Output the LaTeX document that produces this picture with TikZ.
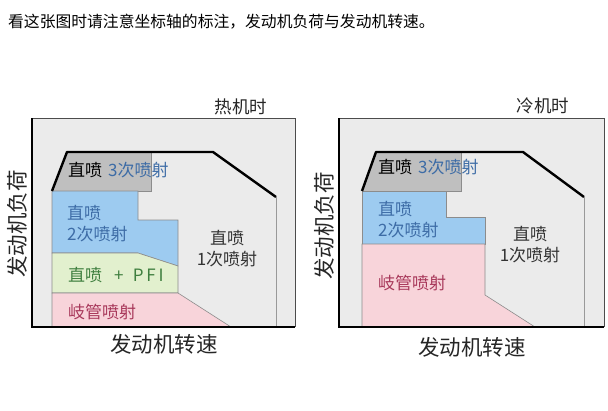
\documentclass[tikz,border=0pt]{standalone}
\usepackage{fontspec}
\setmainfont{Noto Sans CJK SC}
\usepackage{tikz}

\definecolor{panel}{HTML}{EBEBEB}
\definecolor{grayzone}{HTML}{BFBFBF}
\definecolor{bluezone}{HTML}{9DCBF0}
\definecolor{greenzone}{HTML}{E2F0CE}
\definecolor{pinkzone}{HTML}{F8D4DA}
\definecolor{bluetext}{HTML}{3D6CA6}
\definecolor{greentext}{HTML}{3F7F3F}
\definecolor{pinktext}{HTML}{A8385A}

\begin{document}
\begin{tikzpicture}[x=1pt, y=-1pt,
  every node/.style={inner sep=0pt, font=\fontsize{17}{21}\selectfont},
  zone/.style={draw=black!45, line width=.6pt},
  envelope/.style={line width=2.4pt, line join=round},
  axis/.style={line width=2.6pt},
  axislabel/.style={font=\fontsize{21.5}{24}\selectfont, text=black!85},
  paneltitle/.style={font=\fontsize{17.5}{20}\selectfont, text=black!85}]
  \useasboundingbox (0,0) rectangle (608,410);

  \node [anchor=west, font=\fontsize{15.8}{18}\selectfont] (title) at (8,22) {看这张图时请注意坐标轴的标注，发动机负荷与发动机转速。};

  % hot engine
  \fill [panel] (32,118) rectangle (295,327);
  \draw [black!70, line width=.7pt] (32,118) -- (295,118) -- (295,327);
  \fill [grayzone] (52,191) -- (67,152) -- (151,152) -- (151,191) -- cycle;
  \draw [zone] (151,152) -- (151,191) -- (52,191);
  \filldraw [zone, fill=bluezone] (52,191) -- (138,191) -- (138,220) -- (178,220) -- (178,266) -- (138,253) -- (52,253) -- cycle;
  \filldraw [zone, fill=greenzone] (52,253) -- (138,253) -- (178,266) -- (178,293) -- (52,293) -- cycle;
  \filldraw [zone, fill=pinkzone] (52,293) -- (178,293) -- (231,327) -- (52,327) -- cycle;
  \draw [envelope] (52,191) -- (67,152) -- (213,152) -- (276,197);
  \draw [black!40, line width=.7pt] (276,197) -- (276,327);
  \draw [axis] (32,118) -- (32,327) -- (295,327);

  \node [paneltitle] (hot) at (241,107) {热机时};
  \node [anchor=west] (hot3) at (68,170) {直喷\hspace{.35em}\textcolor{bluetext}{3次喷射}};
  \node [anchor=west, align=left, text=bluetext] (hot2) at (67,223.5) {直喷\\2次喷射};
  \node [anchor=west, text=greentext] (hotpfi) at (68,275) {直喷\hspace{.7em}+\hspace{.55em}P\,F\,I};
  \node [anchor=west, text=pinktext] (hotport) at (68,312) {岐管喷射};
  \node [align=center, text=black!80] (hot1) at (227,248.5) {直喷\\1次喷射};
  \node [axislabel, rotate=90] (hotload) at (17,224) {发动机负荷};
  \node [axislabel] (hotspeed) at (164,344) {发动机转速};

  % cold engine
  \fill [panel] (339,118) rectangle (604,327);
  \draw [black!70, line width=.7pt] (339,118) -- (604,118) -- (604,327);
  \fill [grayzone] (362,191) -- (376,152) -- (461,152) -- (461,191) -- cycle;
  \draw [zone] (461,152) -- (461,191) -- (362,191);
  \filldraw [zone, fill=bluezone] (362,191) -- (446,191) -- (446,217) -- (485,217) -- (485,244) -- (362,244) -- cycle;
  \filldraw [zone, fill=pinkzone] (362,244) -- (485,244) -- (485,295) -- (535,327) -- (362,327) -- cycle;
  \draw [envelope] (362,191) -- (376,152) -- (523,152) -- (584,197);
  \draw [black!40, line width=.7pt] (584,197) -- (584,327);
  \draw [axis] (339,118) -- (339,327) -- (604,327);

  \node [paneltitle] (cold) at (543,106) {冷机时};
  \node [anchor=west] (cold3) at (378,167) {直喷\hspace{.35em}\textcolor{bluetext}{3次喷射}};
  \node [anchor=west, align=left, text=bluetext] (cold2) at (378,220) {直喷\\2次喷射};
  \node [anchor=west, text=pinktext] (coldport) at (378,283) {岐管喷射};
  \node [align=center, text=black!80] (cold1) at (530,244.5) {直喷\\1次喷射};
  \node [axislabel, rotate=90] (coldload) at (324,226) {发动机负荷};
  \node [axislabel] (coldspeed) at (472,347) {发动机转速};
\end{tikzpicture}
\end{document}
